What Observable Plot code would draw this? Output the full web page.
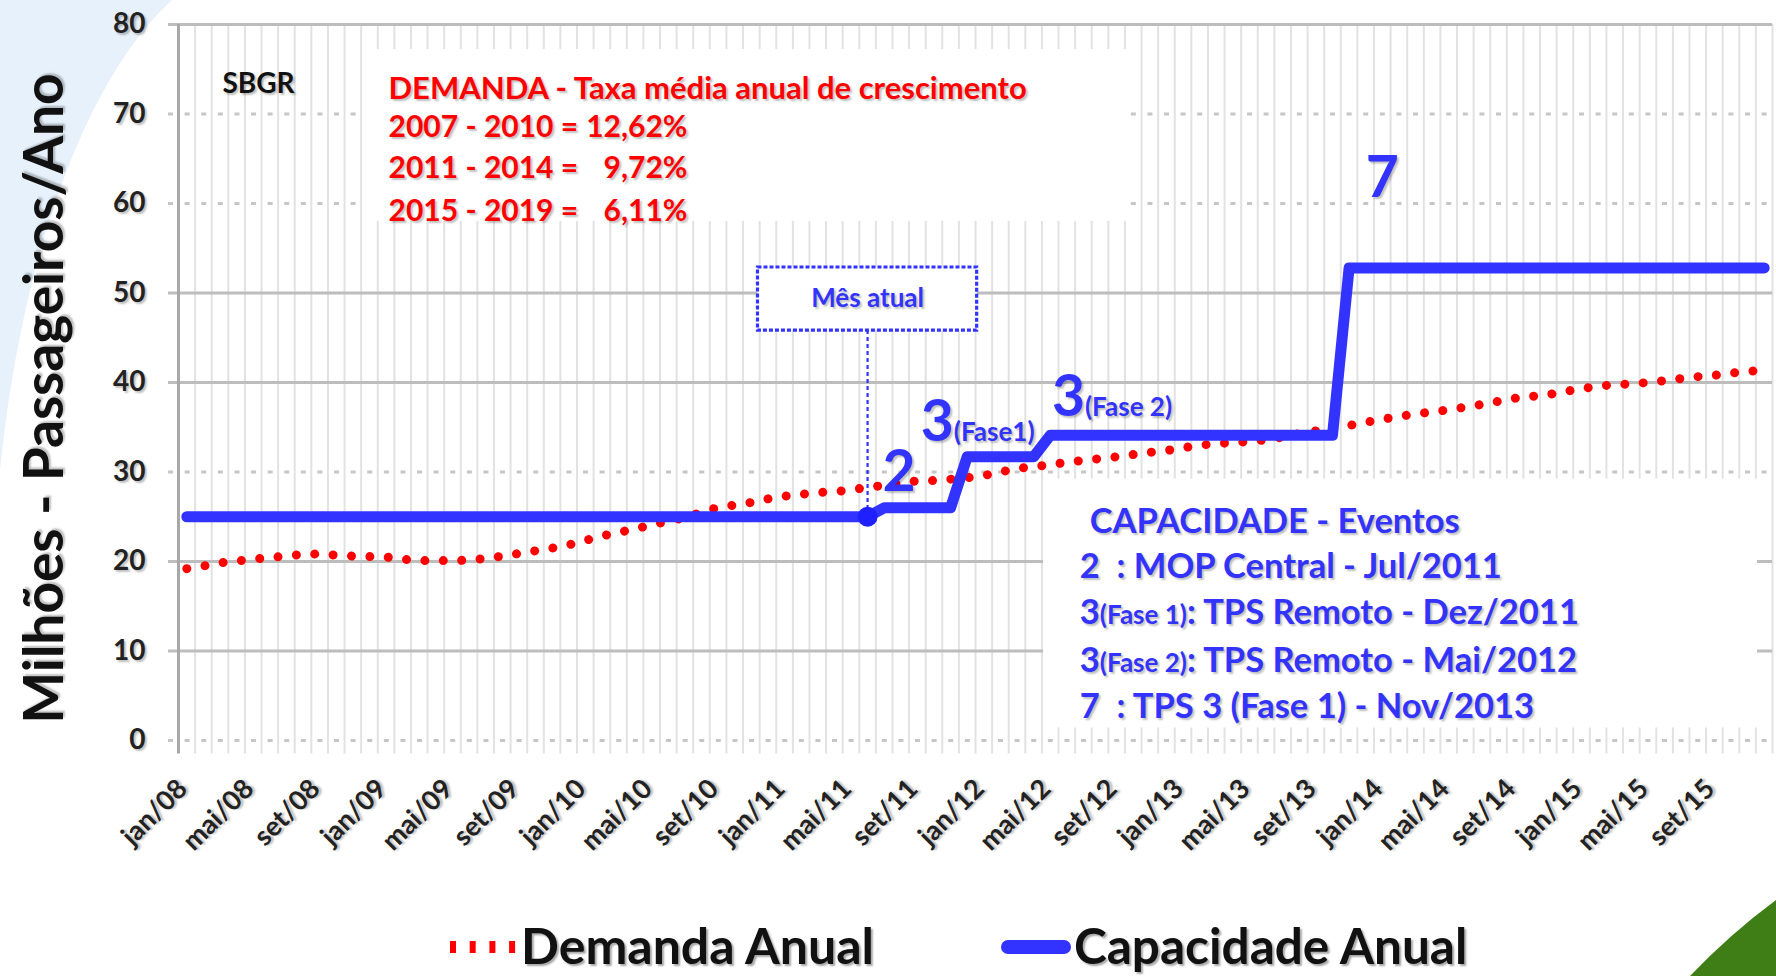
<!DOCTYPE html>
<html>
<head>
<meta charset="utf-8">
<script src="https://cdn.jsdelivr.net/npm/d3@7"></script>
<script src="https://cdn.jsdelivr.net/npm/@observablehq/plot@0.6"></script>
<style>
  html, body { margin: 0; padding: 0; background: #ffffff; width: 1776px; height: 976px; overflow: hidden; font-family: Lato, sans-serif; }
  #bg { position: absolute; left: 0; top: 0; z-index: 0; }
  #wrap { position: absolute; left: 0; top: 0; z-index: 1; width: 1776px; }
  #chart svg text { text-shadow: 2px 2px 2px rgba(0,0,0,0.25); }
  #legend text { text-shadow: 2px 2px 2px rgba(0,0,0,0.35); }
</style>
</head>
<body>
<svg id="bg" width="1776" height="976">
  <path d="M0,0 L172,0 C95,70 25,230 0,470 Z" fill="#e6f1fb"></path>
  <path d="M1690,976 Q1730,934 1776,900 L1776,976 Z" fill="#3f7d17"></path>
</svg>
<div id="wrap">
  <div id="chart"></div>
  <svg id="legend" width="1776" height="76"></svg>
</div>
<script>
// ---------------- data ----------------
const tickLabels = ["jan/08","mai/08","set/08","jan/09","mai/09","set/09","jan/10","mai/10","set/10",
  "jan/11","mai/11","set/11","jan/12","mai/12","set/12","jan/13","mai/13","set/13",
  "jan/14","mai/14","set/14","jan/15","mai/15","set/15"];
const tickStep = 4; // one label every 4 months (jan/08 ... dez/15 = 96 months)

const demanda = [
  19.2, 19.5, 19.85, 20.05, 20.25, 20.45, 20.6, 20.8, 20.85, 20.7, 20.6, 20.55,
  20.5, 20.25, 20.1, 20.1, 20.1, 20.15, 20.35, 20.6, 20.9, 21.2, 21.5, 21.85,
  22.35, 22.85, 23.25, 23.65, 24.1, 24.5, 24.9, 25.5, 26.05, 26.3, 26.6, 27.0,
  27.3, 27.5, 27.7, 27.8, 28.0, 28.3, 28.5, 28.8, 29.0, 29.05, 29.2, 29.35,
  29.6, 30.0, 30.4, 30.6, 30.8, 31.1, 31.3, 31.5, 31.7, 31.95, 32.2, 32.4,
  32.7, 33.0, 33.15, 33.3, 33.4, 33.6, 33.9, 34.3, 34.6, 34.9, 35.2, 35.55,
  35.9, 36.2, 36.5, 36.7, 36.95, 37.25, 37.55, 37.9, 38.25, 38.45, 38.65, 39.0,
  39.3, 39.6, 39.75, 39.85, 40.0, 40.2, 40.45, 40.65, 40.8, 41.05, 41.25, 41.35
];
const capacidade = [
  25, 25, 25, 25, 25, 25, 25, 25, 25, 25, 25, 25,
  25, 25, 25, 25, 25, 25, 25, 25, 25, 25, 25, 25,
  25, 25, 25, 25, 25, 25, 25, 25, 25, 25, 25, 25,
  25, 25, 25, 25, 25, 25, 26, 26, 26, 26, 26, 31.7,
  31.7, 31.7, 31.7, 31.7, 34.1, 34.1, 34.1, 34.1, 34.1, 34.1, 34.1, 34.1,
  34.1, 34.1, 34.1, 34.1, 34.1, 34.1, 34.1, 34.1, 34.1, 34.1, 52.8, 52.8,
  52.8, 52.8, 52.8, 52.8, 52.8, 52.8, 52.8, 52.8, 52.8, 52.8, 52.8, 52.8,
  52.8, 52.8, 52.8, 52.8, 52.8, 52.8, 52.8, 52.8, 52.8, 52.8, 52.8, 52.8
];
const yTicks = [0, 10, 20, 30, 40, 50, 60, 70, 80];
const yGridSolid = [10, 20, 40, 50, 80];
const yGridDotted = [0, 30, 60, 70];
const yTitle = "Milhões - Passageiros/Ano";

const mesAtual = {label: "Mês atual", index: 41};          // jun/11
const calloutBox = [{x1: 34.4, x2: 47.6, y1: 45.8, y2: 52.85}];

const stationLabel = [{label: "SBGR", i: 2.15, v: 72.3}];
const demandaTitulo = [
  {label: "DEMANDA - Taxa média anual de crescimento", i: 12.15, v: 71.7}
];
const demandaPeriodos = [
  {label: "2007 - 2010 =", i: 12.15, v: 67.4},
  {label: "2011 - 2014 =", i: 12.15, v: 62.8},
  {label: "2015 - 2019 =", i: 12.15, v: 58.1}
];
const demandaTaxas = [
  {label: "12,62%", i: 30.15, v: 67.4},
  {label: "9,72%", i: 30.15, v: 62.8},
  {label: "6,11%", i: 30.15, v: 58.1}
];
const eventoRotulos = [
  {label: "2", i: 41.9, v: 27.9},
  {label: "3§(Fase1)", i: 44.2, v: 33.5},
  {label: "3§(Fase 2)", i: 52.1, v: 36.3},
  {label: "7", i: 71.0, v: 60.7}
];
const eventosNotas = [
  {label: "CAPACIDADE - Eventos", i: 54.38, v: 23.2},
  {label: "2\u00a0\u00a0: MOP Central - Jul/2011", i: 53.78, v: 18.2},
  {label: "3§(Fase 1)§: TPS Remoto - Dez/2011", i: 53.78, v: 13.0},
  {label: "3§(Fase 2)§: TPS Remoto - Mai/2012", i: 53.78, v: 7.7},
  {label: "7\u00a0\u00a0: TPS 3 (Fase 1) - Nov/2013", i: 53.78, v: 2.5}
];
const whiteBoxes = [
  {x1: 10.7, x2: 56.6, y1: 58.0, y2: 77.2},
  {x1: 51.6, x2: 94.6, y1: 1.4, y2: 29.2}
];
const legendItems = ["Demanda Anual", "Capacidade Anual"];

// ---------------- chart ----------------
const rows = demanda.map((d, i) => ({i, demanda: d, capacidade: capacidade[i]}));
const boundaries = rows.map(d => d.i + 0.5);
const BLUE = "#3333ff", RED = "#ff0000";

const chart = Plot.plot({
  width: 1776,
  height: 900,
  marginLeft: 178,
  marginRight: 4,
  marginTop: 24,
  marginBottom: 160,
  x: {domain: [-0.5, 95.5], axis: null},
  y: {domain: [0, 80], axis: null},
  style: {background: "transparent", fontFamily: "Lato, sans-serif", overflow: "visible"},
  marks: [
    // vertical month gridlines
    Plot.ruleX(boundaries, {x: d => d, y1: () => -1.5, y2: () => 80, stroke: "#e2e2e2", strokeWidth: 2}),
    // horizontal gridlines
    Plot.ruleY(yGridSolid, {y: d => d, x1: () => -1.1, x2: () => 95.5, stroke: "#bdbdbd", strokeWidth: 3}),
    Plot.ruleY(yGridDotted, {y: d => d, x1: () => -1.1, x2: () => 95.5, stroke: "#c6c6c6", strokeWidth: 3, strokeDasharray: "5,11.6"}),
    // white text boxes
    Plot.rect(whiteBoxes, {x1: "x1", x2: "x2", y1: "y1", y2: "y2", fill: "white"}),
    // y axis line
    Plot.ruleX([-0.5], {x: d => d, y1: () => -1.5, y2: () => 80, stroke: "#a8a8a8", strokeWidth: 3}),
    // y tick labels
    Plot.text(yTicks, {x: () => -0.5, y: d => d, text: d => String(d), textAnchor: "end", dx: -33,
      fontSize: 28, fontWeight: "bold", fill: "#222"}),
    // x tick labels
    Plot.text(tickLabels, {x: (d, j) => j * tickStep, y: () => 0, text: d => d, rotate: -45,
      textAnchor: "end", lineAnchor: "bottom", dx: 2, dy: 50, fontSize: 27, fontWeight: "bold", fill: "#222"}),
    // y title
    Plot.text([yTitle], {x: () => -0.5, y: () => 38.2, text: d => d, rotate: -90, textAnchor: "middle",
      lineAnchor: "bottom", dx: -116, fontSize: 55, fontWeight: "bold", fill: "#111"}),
    // demand (dotted red)
    Plot.line(rows, {x: "i", y: "demanda", stroke: RED, strokeWidth: 9, strokeDasharray: "0.01,18.4",
      strokeLinecap: "round"}),
    // capacity (thick blue)
    Plot.line(rows, {x: "i", y: "capacidade", stroke: BLUE, strokeWidth: 11, strokeLinejoin: "round"}),
    // callout: Mês atual
    Plot.ruleX([mesAtual], {x: "index", y1: () => calloutBox[0].y1, y2: d => capacidade[d.index],
      stroke: BLUE, strokeWidth: 2.2, strokeDasharray: "4,3"}),
    Plot.rect(calloutBox, {x1: "x1", x2: "x2", y1: "y1", y2: "y2", fill: "white", stroke: BLUE,
      strokeWidth: 3.2, strokeDasharray: "4,2"}),
    Plot.text([mesAtual], {x: "index", y: () => (calloutBox[0].y1 + calloutBox[0].y2) / 2, text: "label",
      fontSize: 26, fontWeight: "bold", fill: BLUE}),
    Plot.dot([mesAtual], {x: "index", y: d => capacidade[d.index], r: 10, fill: "#2020ff"}),
    // annotations
    Plot.text(stationLabel, {x: "i", y: "v", text: "label", textAnchor: "start", lineAnchor: "bottom",
      fontSize: 28, fontWeight: "bold", fill: "#111"}),
    Plot.text(demandaTitulo, {x: "i", y: "v", text: "label", textAnchor: "start", lineAnchor: "bottom",
      fontSize: 31, fontWeight: "bold", fill: RED}),
    Plot.text(demandaPeriodos, {x: "i", y: "v", text: "label", textAnchor: "start", lineAnchor: "bottom",
      fontSize: 30, fontWeight: "bold", fill: RED}),
    Plot.text(demandaTaxas, {x: "i", y: "v", text: "label", textAnchor: "end", lineAnchor: "bottom",
      fontSize: 30, fontWeight: "bold", fill: RED}),
    Plot.text(eventoRotulos, {x: "i", y: "v", text: "label", textAnchor: "start", lineAnchor: "bottom",
      fontSize: 57, fontWeight: "bold", fill: BLUE}),
    Plot.text(eventosNotas, {x: "i", y: "v", text: "label", textAnchor: "start", lineAnchor: "bottom",
      fontSize: 34.5, fontWeight: "bold", fill: BLUE})
  ]
});

// mixed-size segments: odd segments between § are set smaller
d3.select(chart).selectAll("text").each(function () {
  const t = this.textContent;
  if (!t.includes("§")) return;
  const parts = t.split("§");
  const sel = d3.select(this);
  sel.text(null);
  parts.forEach((p, k) => {
    const ts = sel.append("tspan").text(p);
    if (k % 2 === 1) ts.attr("font-size", 26);
  });
});

document.getElementById("chart").appendChild(chart);

// ---------------- legend ----------------
const lg = d3.select("#legend");
lg.append("line").attr("x1", 450).attr("x2", 516).attr("y1", 47).attr("y2", 47)
  .attr("stroke", RED).attr("stroke-width", 12).attr("stroke-dasharray", "6,13.7");
lg.append("text").attr("x", 521).attr("y", 64).text(legendItems[0])
  .attr("font-family", "Lato, sans-serif").attr("font-weight", "bold").attr("font-size", 50).attr("fill", "#111");
lg.append("line").attr("x1", 1008).attr("x2", 1064).attr("y1", 47).attr("y2", 47)
  .attr("stroke", BLUE).attr("stroke-width", 14).attr("stroke-linecap", "round");
lg.append("text").attr("x", 1074).attr("y", 64).text(legendItems[1])
  .attr("font-family", "Lato, sans-serif").attr("font-weight", "bold").attr("font-size", 49.5).attr("fill", "#111");
</script>
</body>
</html>
